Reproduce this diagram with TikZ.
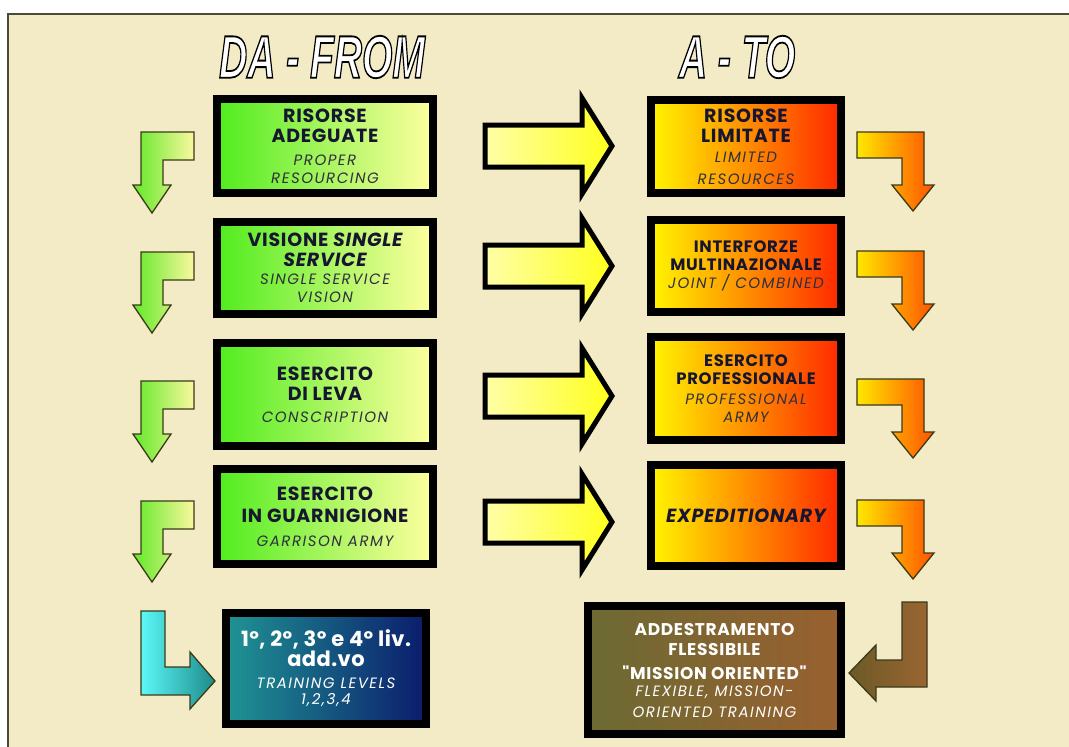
\documentclass[tikz,border=0pt]{standalone}
\usepackage{fontspec}
\newfontfamily\bodyfont{Poppins}
\newfontfamily\headfont{Liberation Sans}
\usetikzlibrary{calc}
\definecolor{bg}{HTML}{F3EBC5}
\definecolor{frameline}{HTML}{4A4A3A}
\definecolor{gboxL}{HTML}{50EC1E}
\definecolor{gboxR}{HTML}{FFFFA0}
\definecolor{oboxL}{HTML}{FFF500}
\definecolor{oboxM}{HTML}{FF9C00}
\definecolor{oboxR}{HTML}{FF2800}
\definecolor{yarrL}{HTML}{FFFFA8}
\definecolor{yarrR}{HTML}{FFFF1E}
\definecolor{glL}{HTML}{62E828}
\definecolor{glR}{HTML}{FAF8A0}
\definecolor{olL}{HTML}{FFE800}
\definecolor{olR}{HTML}{FF5200}
\definecolor{cyL}{HTML}{5CF8F8}
\definecolor{cyR}{HTML}{1E8A8A}
\definecolor{brL}{HTML}{6B5A26}
\definecolor{brR}{HTML}{9A6532}
\definecolor{tboxL}{HTML}{1F9494}
\definecolor{tboxR}{HTML}{0B1C6C}
\definecolor{bboxL}{HTML}{6C6A33}
\definecolor{bboxR}{HTML}{99602F}
\definecolor{ink}{HTML}{161630}
\definecolor{inkit}{HTML}{30303E}
\definecolor{arrline}{HTML}{3A3A18}
\newcommand\mB[1]{{\fontsize{19}{20}\selectfont\bfseries\addfontfeatures{LetterSpace=4}#1}}
\newcommand\mS[1]{{\fontsize{16.5}{18}\selectfont\bfseries\addfontfeatures{LetterSpace=4}#1}}
\newcommand\mI[1]{{\fontsize{15}{18}\selectfont\itshape\addfontfeatures{LetterSpace=10}#1}}
\newcommand\wB[1]{{\fontsize{21}{24}\selectfont\bfseries\addfontfeatures{LetterSpace=2}#1}}
\newcommand\wI[1]{{\fontsize{15}{16}\selectfont\itshape\addfontfeatures{LetterSpace=10}#1}}
\newcommand\bB[1]{{\fontsize{17}{20}\selectfont\bfseries\addfontfeatures{LetterSpace=4}#1}}
\newcommand\ttl[1]{\scalebox{0.65}[1]{\headfont\fontsize{60}{60}\selectfont\bfseries\itshape\special{pdf:literal direct 2 Tr 1.8 w 0 0 0 RG}#1\special{pdf:literal direct 0 Tr}}}
\begin{document}
\begin{tikzpicture}[x=1pt,y=-1pt,
  boxtext/.style={align=center,inner sep=0pt,font=\bodyfont\fontsize{17}{20}\selectfont},
  greenbox/.style={boxtext,draw=black,line width=8pt,left color=gboxL,right color=gboxR,text=ink,minimum width=216pt},
  orangebox/.style={boxtext,draw=black,line width=8pt,left color=oboxL,middle color=oboxM,right color=oboxR,text=ink,minimum width=190pt},
  tealbox/.style={boxtext,draw=black,line width=8pt,left color=tboxL,right color=tboxR,text=white},
  brownbox/.style={boxtext,draw=black,line width=8pt,left color=bboxL,right color=bboxR,text=white},
  bigarrow/.style={draw=black,line width=5pt,miter limit=10,left color=yarrL,right color=yarrR},
  larrow/.style={draw=arrline,line width=1.3pt},
  bigarr/.pic={\path[bigarrow] (0,-21)--(97,-21)--(97,-48)--(127,0)--(97,48)--(97,21)--(0,21)--cycle;},
  greenL/.pic={\path[larrow,left color=glL,right color=glR] (0,0)--(53,0)--(53,28)--(22,28)--(22,53)--(30,53)--(11,81)--(-8,53)--(0,53)--cycle;},
  orangeL/.pic={\path[larrow,left color=olL,right color=olR] (0,0)--(67,0)--(67,53)--(77,53)--(56,79)--(35,53)--(45,53)--(45,26)--(0,26)--cycle;},
  titlenode/.style={inner sep=0pt,text=white}
]
\useasboundingbox (0,0) rectangle (1069,747);
\fill[white] (0,0) rectangle (1069,747);
\fill[bg] (8,14) rectangle (1069,747);
\draw[frameline,line width=1.6pt] (8,747)--(8,14)--(1069,14);

% left boxes
\node[greenbox,minimum height=94pt] (l1) at (325,146)
  {\mB{RISORSE}\\\mB{ADEGUATE}\\[3pt]\color{inkit}\mI{PROPER}\\[-2pt]\color{inkit}\mI{RESOURCING}};
\node[greenbox,minimum height=92pt] (l2) at (325,268)
  {\mB{VISIONE \itshape SINGLE}\\\mB{\itshape SERVICE}\\[-2pt]\color{inkit}\mI{SINGLE SERVICE}\\[-2pt]\color{inkit}\mI{VISION}};
\node[greenbox,minimum height=103pt] (l3) at (325,394.5)
  {\mB{ESERCITO}\\\mB{DI LEVA}\\[2pt]\color{inkit}\mI{CONSCRIPTION}};
\node[greenbox,minimum height=95pt] (l4) at (325,516.5)
  {\mB{ESERCITO}\\[2pt]\mB{IN GUARNIGIONE}\\[4pt]\color{inkit}\mI{GARRISON ARMY}};

% right boxes
\node[orangebox,minimum height=93pt] (r1) at (746,146.5)
  {\mB{RISORSE}\\\mB{LIMITATE}\\\color{inkit}\mI{LIMITED}\\[2pt]\color{inkit}\mI{RESOURCES}};
\node[orangebox,minimum height=92pt] (r2) at (746,266)
  {\mS{INTERFORZE}\\[-2pt]\mS{MULTINAZIONALE}\\[-2pt]\color{inkit}\mI{JOINT / COMBINED}};
\node[orangebox,minimum height=103pt] (r3) at (746,388.5)
  {\mS{ESERCITO}\\[-2pt]\mS{PROFESSIONALE}\\\color{inkit}\mI{PROFESSIONAL}\\[-2pt]\color{inkit}\mI{ARMY}};
\node[orangebox,minimum height=101pt] (r4) at (746,515.5)
  {\mB{\itshape EXPEDITIONARY}};

% bottom boxes
\node[tealbox,minimum width=200pt,minimum height=111pt] (b1) at (326,668.5)
  {\wB{1º, 2º, 3º e 4º liv.}\\\wB{add.vo}\\[2pt]\wI{TRAINING LEVELS}\\[-4pt]\wI{1,2,3,4}};
\node[brownbox,minimum width=253pt,minimum height=128pt] (b2) at (714.5,670)
  {\bB{ADDESTRAMENTO}\\\bB{FLESSIBILE}\\[4pt]\bB{"MISSION ORIENTED"}\\[-3pt]\wI{FLEXIBLE, MISSION-}\\[1pt]\wI{ORIENTED TRAINING}};

% big arrows
\foreach \cy in {146,266,396,522}{
  \pic at (485,\cy) {bigarr};
}

% left L arrows
\foreach \ty in {132,252,381,501}{
  \pic at (141,\ty) {greenL};
}
% right L arrows
\foreach \ty in {132,251,379,500}{
  \pic at (857,\ty) {orangeL};
}

% bottom L arrows
\path[larrow,left color=cyL,right color=cyR] (141,611)--(165,611)--(165,667)--(190,667)--(190,652)--(215,681)--(190,709)--(190,695)--(141,695)--cycle;
\path[larrow,left color=brL,right color=brR] (902,602)--(927,602)--(927,687)--(876,687)--(876,701)--(849,673)--(876,645)--(876,660)--(902,660)--cycle;

% titles (outlined)
\node[titlenode] (tfrom) at (322,57) {\ttl{DA - FROM}};
\node[titlenode] (tto) at (737,57) {\ttl{A - TO}};
\end{tikzpicture}
\end{document}
